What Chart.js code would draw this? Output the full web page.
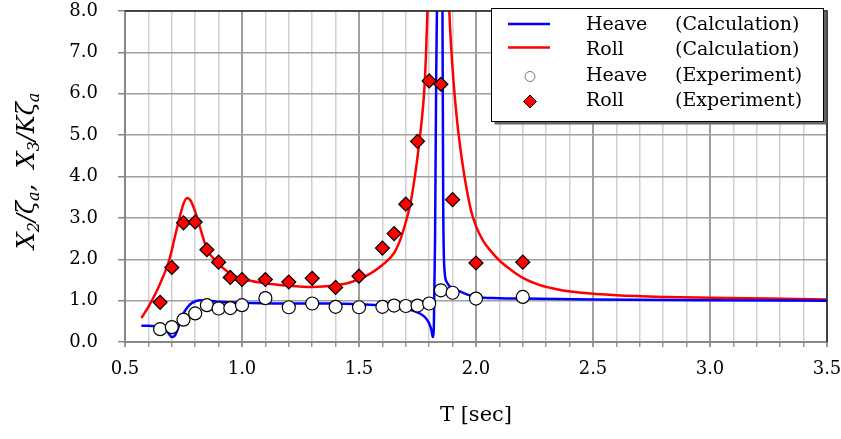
<!DOCTYPE html>
<html>
<head>
<meta charset="utf-8">
<script src="https://cdn.jsdelivr.net/npm/chart.js@4"></script>
<style>
  html, body { margin: 0; padding: 0; background: #fff; }
  #wrap { width: 841px; height: 439px; }
</style>
</head>
<body>
<div id="wrap"><canvas id="chart" width="841" height="439"></canvas></div>
<script>
// Experiment periods (shared by heave and roll measurements)
const expPeriods = [0.65, 0.70, 0.75, 0.80, 0.85, 0.90, 0.95, 1.00, 1.10, 1.20, 1.30,
  1.40, 1.50, 1.60, 1.65, 1.70, 1.75, 1.80, 1.85, 1.90, 2.00, 2.20];
const heaveExp = [0.31, 0.36, 0.54, 0.69, 0.89, 0.81, 0.82, 0.89, 1.06, 0.84, 0.93,
  0.85, 0.84, 0.85, 0.88, 0.87, 0.88, 0.93, 1.25, 1.19, 1.05, 1.09];
const rollExp = [0.96, 1.80, 2.88, 2.90, 2.23, 1.93, 1.56, 1.51, 1.51, 1.45, 1.54,
  1.32, 1.59, 2.27, 2.62, 3.33, 4.85, 6.31, 6.23, 3.44, 1.91, 1.93];

// Calculated heave
const heaveCalcT = [0.57, 0.60, 0.64, 0.665, 0.685, 0.70, 0.715, 0.73, 0.75, 0.77, 0.785,
  0.82, 0.86, 0.90, 1.00, 1.20, 1.40, 1.50, 1.60, 1.68, 1.73, 1.76, 1.785, 1.80, 1.81,
  1.815, 1.82, 1.825, 1.83, 1.838, 1.848, 1.856, 1.86, 1.866, 1.875, 1.89, 1.92, 1.96,
  2.00, 2.10, 2.20, 2.50, 3.00, 3.50];
const heaveCalc = [0.39, 0.39, 0.38, 0.36, 0.22, 0.12, 0.17, 0.38, 0.69, 0.86, 0.94,
  1.01, 1.00, 0.97, 0.95, 0.93, 0.93, 0.91, 0.88, 0.82, 0.76, 0.69, 0.58, 0.45, 0.28,
  0.12, 0.40, 2.50, 6.50, 10.5, 12.0, 9.00, 3.20, 1.70, 1.45, 1.33, 1.25, 1.15,
  1.09, 1.06, 1.05, 1.03, 1.01, 1.00];

// Calculated roll
const rollCalcT = [0.57, 0.60, 0.65, 0.69, 0.72, 0.75, 0.765, 0.78, 0.80, 0.82, 0.85,
  0.89, 0.95, 1.00, 1.10, 1.20, 1.30, 1.40, 1.45, 1.50, 1.55, 1.60, 1.65, 1.675, 1.70,
  1.72, 1.74, 1.755, 1.767, 1.778, 1.786, 1.792, 1.80, 1.82, 1.84, 1.86, 1.875, 1.886,
  1.90, 1.92, 1.94, 1.96, 1.98, 2.00, 2.03, 2.06, 2.10, 2.15, 2.20, 2.27, 2.35, 2.45,
  2.60, 2.80, 3.00, 3.25, 3.50];
const rollCalc = [0.58, 0.85, 1.41, 2.00, 2.70, 3.34, 3.48, 3.42, 3.15, 2.78, 2.25,
  1.95, 1.65, 1.53, 1.42, 1.36, 1.33, 1.37, 1.42, 1.52, 1.66, 1.86, 2.15, 2.45, 2.90,
  3.35, 4.05, 4.70, 5.30, 6.00, 6.90, 7.90, 9.50, 13.0, 16.0, 13.0, 10.0, 8.00,
  6.60, 5.30, 4.40, 3.70, 3.15, 2.80, 2.45, 2.22, 1.97, 1.74, 1.55, 1.38, 1.27, 1.19,
  1.13, 1.09, 1.07, 1.05, 1.03];

const xTicks = ['0.5', '1.0', '1.5', '2.0', '2.5', '3.0', '3.5'];
const legendRows = [
  ['Heave', '(Calculation)'],
  ['Roll', '(Calculation)'],
  ['Heave', '(Experiment)'],
  ['Roll', '(Experiment)']
];

const pairs = (xs, ys) => xs.map((x, i) => ({ x: x, y: ys[i] }));
const isHalf = v => Math.abs(v * 2 - Math.round(v * 2)) < 1e-6;
const serif = '"DejaVu Serif", serif';

// frame on top and right, y axis title and the legend box
const framePlugin = {
  id: 'frame',
  afterDatasetsDraw(chart) {
    const { ctx, chartArea: a } = chart;
    ctx.save();
    ctx.strokeStyle = '#222';
    ctx.lineWidth = 1.5;
    ctx.beginPath();
    ctx.moveTo(a.left, a.top);
    ctx.lineTo(a.right, a.top);
    ctx.lineTo(a.right, a.bottom);
    ctx.stroke();
    ctx.restore();
  },
  afterDraw(chart) {
    const ctx = chart.ctx;
    // y title: X2/ζa, X3/Kζa
    const big = 'italic 24px ' + serif;
    const small = 'italic 16px ' + serif;
    const parts = [
      ['X', big, 0], ['2', small, 5], ['/', big, 0], ['ζ', big, 0], ['a', small, 5],
      [',  ', big, 0], ['X', big, 0], ['3', small, 5], ['/', big, 0], ['K', big, 0],
      ['ζ', big, 0], ['a', small, 5]
    ];
    ctx.save();
    let total = 0;
    parts.forEach(p => { ctx.font = p[1]; total += ctx.measureText(p[0]).width; });
    ctx.translate(34, 171);
    ctx.rotate(-Math.PI / 2);
    ctx.fillStyle = '#000';
    ctx.textBaseline = 'alphabetic';
    let x = -total / 2;
    parts.forEach(p => {
      ctx.font = p[1];
      ctx.fillText(p[0], x, p[2]);
      x += ctx.measureText(p[0]).width;
    });
    ctx.restore();

    // legend box
    const bx = 491.5, by = 8.5, bw = 332, bh = 113;
    ctx.save();
    ctx.fillStyle = '#666';
    ctx.fillRect(bx + 3, by + 3, bw, bh);
    ctx.fillStyle = '#fff';
    ctx.fillRect(bx, by, bw, bh);
    ctx.strokeStyle = '#000';
    ctx.lineWidth = 1;
    ctx.strokeRect(bx, by, bw, bh);
    const rowY = [25, 50.5, 76.5, 101.5];
    const ds = chart.data.datasets;
    // samples
    ctx.lineWidth = 2.5;
    ctx.strokeStyle = ds[0].borderColor;
    ctx.beginPath(); ctx.moveTo(508, rowY[0] - 1); ctx.lineTo(550, rowY[0] - 1); ctx.stroke();
    ctx.strokeStyle = ds[1].borderColor;
    ctx.beginPath(); ctx.moveTo(508, rowY[1] - 3); ctx.lineTo(550, rowY[1] - 3); ctx.stroke();
    ctx.lineWidth = 1;
    ctx.fillStyle = '#fff';
    ctx.strokeStyle = '#777';
    ctx.beginPath(); ctx.arc(530, rowY[2], 5, 0, Math.PI * 2); ctx.fill(); ctx.stroke();
    ctx.fillStyle = ds[3].backgroundColor;
    ctx.strokeStyle = '#000';
    ctx.beginPath();
    ctx.moveTo(530, rowY[3] - 6.5); ctx.lineTo(536.5, rowY[3]);
    ctx.lineTo(530, rowY[3] + 6.5); ctx.lineTo(523.5, rowY[3]);
    ctx.closePath(); ctx.fill(); ctx.stroke();
    // texts
    ctx.fillStyle = '#000';
    ctx.font = '19px ' + serif;
    ctx.textBaseline = 'middle';
    legendRows.forEach((r, i) => {
      ctx.fillText(r[0], 586, rowY[i]);
      ctx.fillText(r[1], 675, rowY[i]);
    });
    ctx.restore();
  }
};

new Chart(document.getElementById('chart'), {
  type: 'scatter',
  data: {
    datasets: [
      {
        label: 'Heave (Calculation)',
        data: pairs(heaveCalcT, heaveCalc),
        showLine: true,
        borderColor: '#0000ff',
        borderWidth: 2.5,
        pointRadius: 0,
        cubicInterpolationMode: 'monotone',
        order: 3
      },
      {
        label: 'Roll (Calculation)',
        data: pairs(rollCalcT, rollCalc),
        showLine: true,
        borderColor: '#ff0000',
        borderWidth: 2.5,
        pointRadius: 0,
        cubicInterpolationMode: 'monotone',
        order: 4
      },
      {
        label: 'Heave (Experiment)',
        data: pairs(expPeriods, heaveExp),
        pointStyle: 'circle',
        pointRadius: 6.5,
        backgroundColor: '#ffffff',
        borderColor: '#000000',
        borderWidth: 1.2,
        order: 1
      },
      {
        label: 'Roll (Experiment)',
        data: pairs(expPeriods, rollExp),
        pointStyle: 'rectRot',
        pointRadius: 7,
        backgroundColor: '#ff0000',
        borderColor: '#000000',
        borderWidth: 1.2,
        order: 2
      }
    ]
  },
  options: {
    responsive: false,
    animation: false,
    devicePixelRatio: 1,
    layout: { padding: { top: 11, right: 14, left: 0, bottom: 0 } },
    plugins: {
      legend: { display: false },
      tooltip: { enabled: false }
    },
    scales: {
      x: {
        type: 'linear',
        min: 0.5,
        max: 3.5,
        afterFit: s => { s.height = 97; s.paddingLeft = 0; s.paddingRight = 0; },
        ticks: {
          stepSize: 0.1,
          autoSkip: false,
          maxRotation: 0,
          padding: 12,
          color: '#000',
          font: { family: serif, size: 18 },
          callback: v => isHalf(v) ? xTicks[Math.round((v - 0.5) * 2)] : ''
        },
        grid: {
          color: c => isHalf(c.tick.value) ? '#a0a0a0' : '#d0d0d0',
          lineWidth: c => isHalf(c.tick.value) ? 2 : 1.5,
          tickLength: 5,
          tickColor: '#999'
        },
        border: { color: '#888', width: 2 },
        title: {
          display: true,
          text: 'T [sec]',
          color: '#000',
          font: { family: serif, size: 21 },
          padding: { top: 0, bottom: 11 }
        }
      },
      y: {
        min: 0,
        max: 8,
        afterFit: s => { s.width = 125; s.paddingTop = 0; s.paddingBottom = 0; },
        ticks: {
          stepSize: 1,
          padding: 20,
          color: '#000',
          font: { family: serif, size: 18 },
          callback: v => v.toFixed(1)
        },
        grid: {
          color: '#a0a0a0',
          lineWidth: 1.5,
          tickLength: 7,
          tickColor: '#888'
        },
        border: { color: '#888', width: 2 }
      }
    }
  },
  plugins: [framePlugin]
});
</script>
</body>
</html>
